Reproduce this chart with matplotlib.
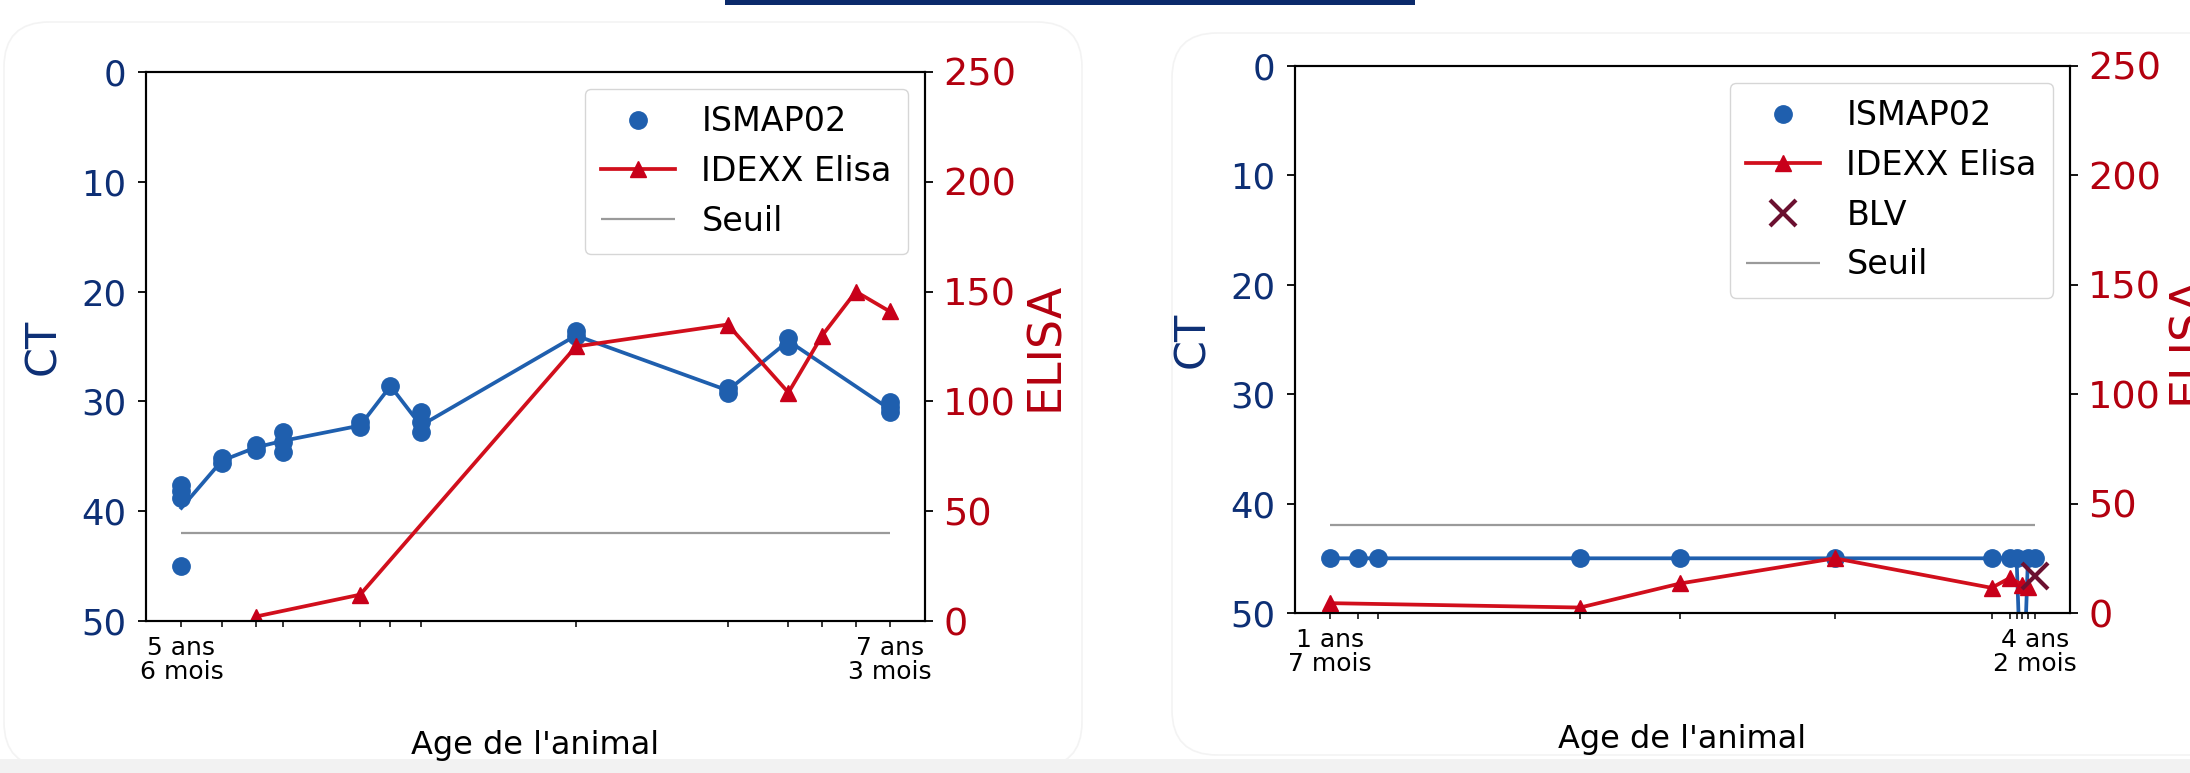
import matplotlib
matplotlib.use("Agg")
import matplotlib.pyplot as plt
from matplotlib.patches import FancyBboxPatch, Rectangle
from matplotlib.transforms import IdentityTransform

# --------------------------------------------------------------------------- #
# data (age in months)
# --------------------------------------------------------------------------- #
left_dates = [66.0, 67.2, 68.2, 69.0, 71.3, 72.2, 73.1, 77.7, 82.2, 84.0, 85.0, 86.0, 87.0]
left_ticklabels = ["5 ans\n6 mois"] + [""] * 11 + ["7 ans\n3 mois"]
left_ct_x = [66.0, 66.0, 66.0, 66.0, 67.2, 67.2, 68.2, 68.2, 69.0, 69.0, 69.0,
             71.3, 71.3, 72.2, 73.1, 73.1, 73.1, 77.7, 77.7, 82.2, 82.2,
             84.0, 84.0, 87.0, 87.0, 87.0]
left_ct_y = [37.6, 38.2, 38.8, 45.0, 35.2, 35.6, 34.0, 34.4, 32.8, 33.7, 34.6,
             31.9, 32.3, 28.6, 31.0, 31.9, 32.8, 23.6, 24.0, 28.8, 29.2,
             24.2, 25.0, 30.1, 30.5, 31.0]
left_line_x = [66.0, 67.2, 68.2, 69.0, 71.3, 72.2, 73.1, 77.7, 82.2, 84.0, 87.0]
left_line_y = [39.7, 35.4, 34.2, 33.6, 32.2, 28.6, 32.2, 24.0, 29.0, 24.5, 30.7]
left_elisa_x = [68.2, 71.3, 77.7, 82.2, 84.0, 85.0, 86.0, 87.0]
left_elisa_y = [2.0, 12.0, 125.0, 135.0, 104.0, 130.0, 150.0, 141.0]

right_dates = [19.0, 20.2, 21.1, 30.0, 34.4, 41.2, 48.1, 48.9, 49.2, 49.45, 49.7, 50.0]
right_ticklabels = ["1 ans\n7 mois"] + [""] * 10 + ["4 ans\n2 mois"]
right_ct_y = [45, 45, 45, 45, 45, 45, 45, 45, 45, 60, 45, 45]
right_elisa_x = [19.0, 30.0, 34.4, 41.2, 48.1, 48.9, 49.45, 49.7]
right_elisa_y = [4.5, 2.5, 13.5, 25.0, 11.5, 16.0, 13.0, 12.0]
right_blv_x = [50.0]
right_blv_y = [17.0]

seuil_ct = 42

# --------------------------------------------------------------------------- #
# styling
# --------------------------------------------------------------------------- #
BLUE = "#1f5fae"
RED = "#d10f1c"
RED_TXT = "#b3000f"
NAVY = "#0d2f75"
MAROON = "#6b1030"
GREY = "#9a9a9a"

W, H = 2190, 773
fig = plt.figure(figsize=(W / 100, H / 100), dpi=100)
fig.patch.set_facecolor("white")

# slide decorations: cards, top bar, bottom strip
px = IdentityTransform()
for x0, y0, x1, y1 in [(4, 6, 1082, 751), (1172, 18, 2260, 740)]:
    fig.patches.append(FancyBboxPatch((x0, y0), x1 - x0, y1 - y0,
                                      boxstyle="round,pad=0,rounding_size=45",
                                      transform=px, facecolor="none",
                                      edgecolor="#f3f3f3", lw=1.2, zorder=0))
fig.patches.append(Rectangle((725, H - 5), 690, 5, transform=px,
                             facecolor="#0b2a6b", edgecolor="none", zorder=1))
fig.patches.append(Rectangle((0, 0), W, 14, transform=px,
                             facecolor="#f2f2f2", edgecolor="none", zorder=0))


def draw_panel(rect, dates, ticklabels, ct_x, ct_y, line_x, line_y,
               elisa_x, elisa_y, blv_x=None, blv_y=None,
               xlabel_y=-0.226, ct_label_x=-0.132, elisa_label_x=1.155):
    ax = fig.add_axes(rect)
    ax.set_zorder(2)
    pts, = ax.plot(ct_x, ct_y, "o", color=BLUE, ms=12.5, label="ISMAP02")
    ax.plot(line_x, line_y, "-", color=BLUE, lw=2.7)
    seuil = ax.hlines(seuil_ct, dates[0], dates[-1], color=GREY, lw=1.6, label="Seuil")
    ax.set_ylim(50, 0)
    ax.set_yticks([0, 10, 20, 30, 40, 50])
    ax.set_xticks(dates)
    ax.set_xticklabels(ticklabels, linespacing=1.0)
    ax.tick_params(axis="y", labelsize=25.5, labelcolor=NAVY, length=6, width=1.3, pad=8)
    ax.tick_params(axis="x", labelsize=18, length=4.5, width=1.1, pad=6)
    ax.set_ylabel("CT", fontsize=31, color=NAVY, va="center")
    ax.yaxis.set_label_coords(ct_label_x, 0.5)
    ax.set_xlabel("Age de l'animal", fontsize=23, va="center")
    ax.xaxis.set_label_coords(0.5, xlabel_y)
    for s in ax.spines.values():
        s.set_linewidth(1.5)

    ax2 = ax.twinx()
    el, = ax2.plot(elisa_x, elisa_y, "-^", color=RED, lw=2.7, ms=12,
                   mfc="#c8001a", mec="#c8001a", label="IDEXX Elisa")
    handles = [pts, el]
    if blv_x is not None:
        bl, = ax2.plot(blv_x, blv_y, "x", color=MAROON, ms=19, mew=3, ls="none", label="BLV")
        handles.append(bl)
    handles.append(seuil)
    ax2.set_ylim(0, 250)
    ax2.set_yticks([0, 50, 100, 150, 200, 250])
    ax2.tick_params(axis="y", labelsize=27.5, labelcolor=RED_TXT, length=6, width=1.3, pad=7)
    ax2.set_ylabel("ELISA", fontsize=33, color=RED_TXT, va="center")
    ax2.yaxis.set_label_coords(elisa_label_x, 0.5)
    for s in ax2.spines.values():
        s.set_linewidth(1.5)
    leg = ax2.legend(handles=handles, loc="upper right", fontsize=24,
                     handlelength=2.2, labelspacing=0.5, borderpad=0.5)
    leg.get_frame().set_edgecolor("#cccccc")
    return ax, ax2


draw_panel([146 / W, (H - 621) / H, 779 / W, 549 / H],
           left_dates, left_ticklabels, left_ct_x, left_ct_y,
           left_line_x, left_line_y, left_elisa_x, left_elisa_y,
           xlabel_y=-0.226, ct_label_x=-0.132, elisa_label_x=1.155)

# the slide crops the right panel's ELISA label at the edge
draw_panel([1295 / W, (H - 613) / H, 775 / W, 547 / H],
           right_dates, right_ticklabels, right_dates, right_ct_y,
           right_dates, right_ct_y, right_elisa_x, right_elisa_y,
           right_blv_x, right_blv_y,
           xlabel_y=-0.232, ct_label_x=-0.1325, elisa_label_x=1.152)

fig.savefig("out.png", dpi=100)
plt.close(fig)
